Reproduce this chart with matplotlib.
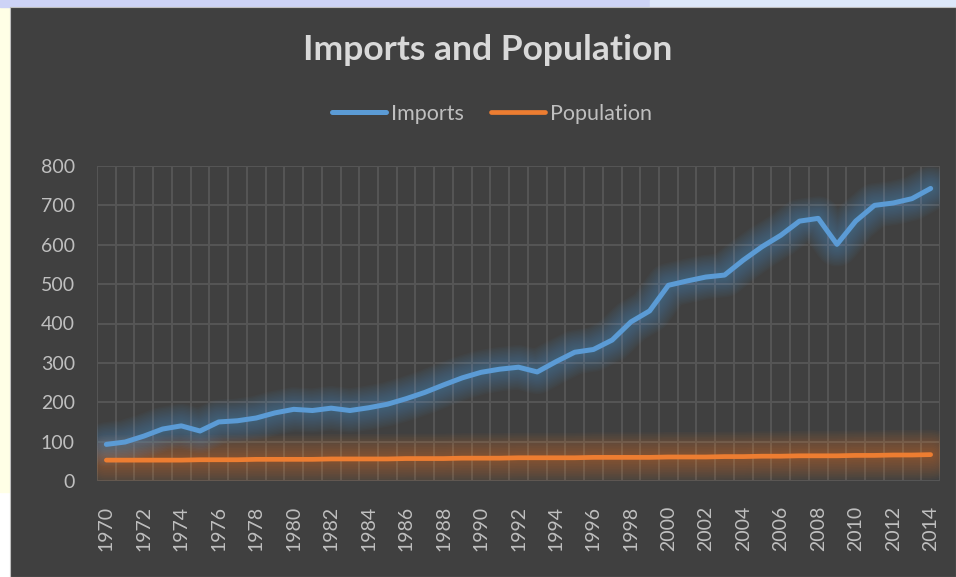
import numpy as np
import matplotlib
matplotlib.use("Agg")
import matplotlib.pyplot as plt
from matplotlib.patches import Rectangle

# data
years = list(range(1970, 2015))
imports = [93, 99, 114, 132, 140, 127, 150, 153, 160, 173,
           182, 179, 185, 179, 186, 195, 209, 225, 244, 262,
           276, 284, 289, 277, 303, 327, 334, 358, 404, 432,
           497, 508, 518, 523, 561, 595, 624, 660, 667, 601,
           660, 700, 706, 717, 743]
population = [53, 53, 53, 53, 53, 54, 54, 54, 55, 55,
              55, 55, 56, 56, 56, 56, 57, 57, 57, 58,
              58, 58, 59, 59, 59, 59, 60, 60, 60, 60,
              61, 61, 61, 62, 62, 63, 63, 64, 64, 64,
              65, 65, 66, 66, 67]
yticks = [0, 100, 200, 300, 400, 500, 600, 700, 800]

plt.rcParams['font.family'] = ['Lato', 'DejaVu Sans']

W, H = 956, 577
fig = plt.figure(figsize=(W / 100, H / 100), dpi=100, facecolor='white')

# spreadsheet bits peeking out round the chart
fig.patches.append(Rectangle((0, (H - 492) / H), 10 / W, 492 / H, transform=fig.transFigure,
                             color='#FFFFE6', zorder=0))
fig.patches.append(Rectangle((0, (H - 7) / H), 0.68, 7 / H, transform=fig.transFigure,
                             color='#CDD3F6', zorder=0))
fig.patches.append(Rectangle((0.68, (H - 7) / H), 0.32, 7 / H, transform=fig.transFigure,
                             color='#DDE8FA', zorder=0))
# chart area
fig.patches.append(Rectangle((10 / W, 0), (W - 10) / W, (H - 7) / H, transform=fig.transFigure,
                             facecolor='#404040', edgecolor='#BFBFBF', linewidth=0.8, zorder=1))

left, right, top, bottom = 97, 940, 166, 481
ax = fig.add_axes([left / W, (H - bottom) / H, (right - left) / W, (bottom - top) / H])
ax.set_facecolor('none')
ax.set_zorder(2)

x = np.arange(len(years))
blue = '#5B9BD5'
orange = '#ED7D31'

# soft glow behind each line (wide and faint, like Excel's glow effect)
for series, col, maxw, a in [(population, orange, 36, 0.035), (imports, blue, 32, 0.035)]:
    for lw in np.linspace(5, maxw, 14):
        ax.plot(x, series, color=col, lw=lw, alpha=a, solid_capstyle='round',
                solid_joinstyle='round', zorder=2)

ax.plot(x, imports, color=blue, lw=3.6, solid_capstyle='round', solid_joinstyle='round',
        label='Imports', zorder=4)
ax.plot(x, population, color=orange, lw=3.4, solid_capstyle='round', solid_joinstyle='round',
        label='Population', zorder=4)

ax.set_xlim(-0.5, len(years) - 0.5)
ax.set_ylim(0, 800)
ax.set_yticks(yticks)
ax.set_yticklabels([str(v) for v in yticks])
ax.set_xticks(x[::2])
ax.set_xticklabels([str(y) for y in years[::2]], rotation=90)
ax.set_xticks(np.arange(-0.5, len(years), 1), minor=True)

ax.grid(True, which='major', axis='y', color='#555555', lw=1.5, zorder=0)
ax.grid(True, which='minor', axis='x', color='#555555', lw=1.5, zorder=0)
ax.grid(False, which='major', axis='x')
ax.set_axisbelow(True)
for s in ax.spines.values():
    s.set_visible(False)
ax.tick_params(axis='both', which='both', length=0, colors='#BFBFBF', labelsize=14)
ax.tick_params(axis='y', pad=16)
ax.tick_params(axis='x', pad=18)

fig.text(488 / W, (H - 50) / H, 'Imports and Population', ha='center', va='center',
         fontsize=25.5, fontweight='bold', color='#D9D9D9')

fig.legend(loc='center', bbox_to_anchor=(492 / W, (H - 114) / H), ncol=2, frameon=False,
           fontsize=15.5, labelcolor='#BFBFBF', handlelength=2.5, columnspacing=1.25,
           handletextpad=0.25)

fig.savefig('out.png', dpi=100, facecolor=fig.get_facecolor())
